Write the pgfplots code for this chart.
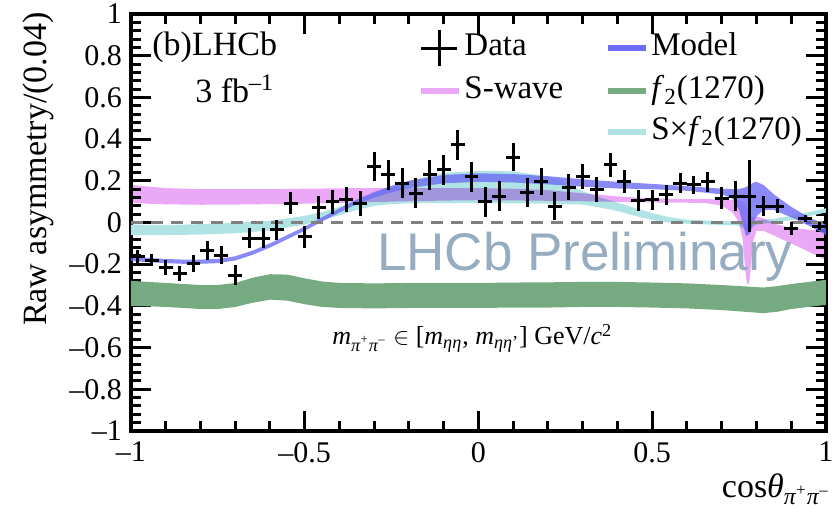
\documentclass[border=0pt]{standalone}
\usepackage{fontspec}
\setmainfont{Liberation Serif}
\newfontfamily\wmfont{Liberation Sans}
\usepackage{pgfplots}
\usepackage{pgfplotstable}
\pgfplotsset{compat=1.18}
\usepgfplotslibrary{fillbetween}

\definecolor{modelc}{RGB}{108,108,245}
\definecolor{swavec}{RGB}{234,168,246}
\definecolor{f2c}{RGB}{118,170,128}
\definecolor{sf2c}{RGB}{176,228,228}
\definecolor{wmc}{RGB}{150,172,192}
\definecolor{dashc}{RGB}{128,128,128}

\pgfplotstableread{
x y ex ey
-0.98 -0.162 0.02 0.030
-0.94 -0.180 0.02 0.030
-0.90 -0.215 0.02 0.035
-0.86 -0.244 0.02 0.035
-0.82 -0.196 0.02 0.040
-0.78 -0.135 0.02 0.045
-0.74 -0.156 0.02 0.045
-0.70 -0.252 0.02 0.048
-0.66 -0.076 0.02 0.048
-0.62 -0.076 0.02 0.048
-0.58 -0.036 0.02 0.050
-0.54 0.092 0.02 0.052
-0.50 -0.068 0.02 0.052
-0.46 0.073 0.02 0.055
-0.42 0.100 0.02 0.058
-0.38 0.111 0.02 0.060
-0.34 0.092 0.02 0.060
-0.30 0.268 0.02 0.070
-0.26 0.228 0.02 0.070
-0.22 0.188 0.02 0.072
-0.18 0.140 0.02 0.072
-0.14 0.228 0.02 0.070
-0.10 0.252 0.02 0.070
-0.06 0.372 0.02 0.070
-0.02 0.220 0.02 0.072
0.02 0.100 0.02 0.072
0.06 0.127 0.02 0.070
0.10 0.313 0.02 0.068
0.14 0.143 0.02 0.068
0.18 0.196 0.02 0.066
0.22 0.079 0.02 0.065
0.26 0.169 0.02 0.062
0.30 0.220 0.02 0.060
0.34 0.156 0.02 0.060
0.38 0.276 0.02 0.058
0.42 0.196 0.02 0.055
0.46 0.105 0.02 0.052
0.50 0.108 0.02 0.048
0.54 0.132 0.02 0.048
0.58 0.188 0.02 0.048
0.62 0.180 0.02 0.045
0.66 0.196 0.02 0.048
0.70 0.116 0.02 0.052
0.74 0.127 0.02 0.070
0.78 0.127 0.02 0.175
0.82 0.079 0.02 0.048
0.86 0.079 0.02 0.032
0.90 -0.028 0.02 0.032
0.94 0.020 0.02 0.016
0.98 -0.017 0.02 0.020
}\datatab

\pgfplotstableread{
x lo hi
-1.00 -0.400 -0.280
-0.95 -0.402 -0.285
-0.90 -0.405 -0.290
-0.85 -0.410 -0.295
-0.80 -0.415 -0.300
-0.75 -0.415 -0.300
-0.70 -0.405 -0.290
-0.65 -0.385 -0.265
-0.60 -0.370 -0.248
-0.55 -0.375 -0.250
-0.50 -0.392 -0.268
-0.45 -0.405 -0.283
-0.40 -0.410 -0.290
-0.30 -0.412 -0.292
-0.20 -0.410 -0.290
-0.10 -0.410 -0.290
0.00 -0.410 -0.290
0.10 -0.408 -0.288
0.20 -0.408 -0.287
0.30 -0.405 -0.285
0.40 -0.405 -0.285
0.50 -0.408 -0.288
0.60 -0.412 -0.292
0.70 -0.420 -0.300
0.78 -0.430 -0.308
0.82 -0.435 -0.312
0.86 -0.428 -0.305
0.90 -0.415 -0.295
0.95 -0.405 -0.285
1.00 -0.395 -0.275
}\greentab

\pgfplotstableread{
x lo hi
-1.00 0.095 0.180
-0.95 0.090 0.172
-0.90 0.087 0.165
-0.80 0.085 0.160
-0.70 0.086 0.160
-0.60 0.088 0.160
-0.50 0.090 0.162
-0.40 0.094 0.164
-0.30 0.098 0.165
-0.20 0.102 0.165
-0.10 0.105 0.165
0.00 0.107 0.165
0.10 0.106 0.162
0.20 0.104 0.155
0.30 0.102 0.140
0.40 0.099 0.125
0.50 0.096 0.115
0.60 0.095 0.112
0.66 0.092 0.112
0.70 0.080 0.110
0.73 0.050 0.108
0.75 0.000 0.105
0.76 -0.080 0.100
0.77 -0.270 0.080
0.775 -0.300 0.060
0.78 -0.280 0.040
0.785 -0.180 0.030
0.79 -0.090 0.025
0.80 -0.040 0.030
0.82 -0.040 0.020
0.86 -0.070 -0.010
0.90 -0.100 -0.025
0.95 -0.140 -0.035
1.00 -0.180 -0.040
}\pinktab

\pgfplotstableread{
x lo hi
-1.00 -0.060 -0.010
-0.90 -0.060 -0.012
-0.80 -0.058 -0.008
-0.70 -0.052 -0.002
-0.60 -0.038 0.008
-0.50 -0.010 0.032
-0.45 0.010 0.050
-0.40 0.035 0.075
-0.35 0.060 0.105
-0.30 0.080 0.138
-0.25 0.088 0.170
-0.20 0.092 0.200
-0.10 0.093 0.238
0.00 0.093 0.248
0.10 0.092 0.245
0.20 0.090 0.220
0.25 0.088 0.190
0.30 0.086 0.150
0.35 0.072 0.120
0.40 0.055 0.095
0.45 0.032 0.070
0.50 0.012 0.045
0.55 0.000 0.025
0.60 -0.006 0.014
0.70 -0.012 0.006
0.75 -0.015 0.004
0.77 -0.035 -0.005
0.78 -0.040 -0.010
0.79 -0.020 0.005
0.80 -0.010 0.010
0.85 0.000 0.018
0.90 0.012 0.032
0.95 0.030 0.050
1.00 0.048 0.068
}\cyantab

\pgfplotstableread{
x lo hi
-1.00 -0.185 -0.165
-0.95 -0.190 -0.170
-0.90 -0.195 -0.175
-0.85 -0.198 -0.178
-0.80 -0.198 -0.178
-0.75 -0.195 -0.175
-0.70 -0.182 -0.162
-0.65 -0.155 -0.135
-0.60 -0.120 -0.100
-0.55 -0.080 -0.060
-0.50 -0.040 -0.020
-0.45 0.005 0.025
-0.40 0.048 0.068
-0.35 0.088 0.110
-0.30 0.120 0.146
-0.25 0.145 0.176
-0.20 0.165 0.200
-0.10 0.188 0.228
0.00 0.195 0.236
0.10 0.192 0.232
0.20 0.183 0.222
0.30 0.172 0.207
0.40 0.163 0.195
0.50 0.160 0.185
0.60 0.152 0.174
0.70 0.135 0.162
0.73 0.115 0.160
0.75 0.060 0.160
0.76 0.000 0.165
0.77 -0.065 0.170
0.78 -0.055 0.180
0.79 -0.005 0.190
0.80 0.030 0.195
0.82 0.060 0.180
0.85 0.060 0.135
0.90 0.025 0.075
0.95 -0.015 0.025
1.00 -0.060 -0.010
}\modeltab

\begin{document}
\begin{tikzpicture}
\begin{axis}[
  at={(0pt,0pt)}, anchor=south west,
  width=347.5pt, height=208.5pt, scale only axis,
  xmin=-1, xmax=1, ymin=-1, ymax=1,
  axis line style={line width=1.75pt, line join=miter},
  tick align=inside,
  major tick length=10pt, minor tick length=5pt,
  every tick/.style={black, line width=1.5pt},
  xtick={-1,-0.5,0,0.5,1},
  xticklabels={–1,–0.5,0,0.5,1},
  minor x tick num=4,
  ytick={-1,-0.8,-0.6,-0.4,-0.2,0,0.2,0.4,0.6,0.8,1},
  yticklabels={–1,–0.8,–0.6,–0.4,–0.2,0,0.2,0.4,0.6,0.8,1},
  minor y tick num=4,
  ticklabel style={font=\fontsize{15}{18}\selectfont},
  xticklabel style={yshift=-2pt},
  yticklabel style={xshift=-1pt},
  legend columns=2,
  legend cell align=left,
  legend style={draw=none, fill=none, inner sep=0pt,
    at={(axis description cs:0.413,0.965)}, anchor=north west,
    font=\fontsize{16.5}{19}\selectfont,
    nodes={inner sep=1pt, text height=11.5pt, text depth=4pt},
    row sep=3pt,
    /tikz/every even column/.append style={column sep=20pt}},
]
% bands
\addplot[name path=ch, draw=none, forget plot] table[x=x,y=hi]{\cyantab};
\addplot[name path=cl, draw=none, forget plot] table[x=x,y=lo]{\cyantab};
\addplot[sf2c, forget plot] fill between[of=ch and cl];

\addplot[name path=ph, draw=none, forget plot] table[x=x,y=hi]{\pinktab};
\addplot[name path=pl, draw=none, forget plot] table[x=x,y=lo]{\pinktab};
\addplot[swavec, blend mode=multiply, forget plot] fill between[of=ph and pl];

\addplot[name path=gh, draw=none, forget plot] table[x=x,y=hi]{\greentab};
\addplot[name path=gl, draw=none, forget plot] table[x=x,y=lo]{\greentab};
\addplot[f2c, forget plot] fill between[of=gh and gl];

\addplot[name path=mh, draw=none, forget plot] table[x=x,y=hi]{\modeltab};
\addplot[name path=ml, draw=none, forget plot] table[x=x,y=lo]{\modeltab};
\addplot[modelc, fill opacity=0.8, forget plot] fill between[of=mh and ml];

% zero line
\addplot[dashc, line width=1.5pt, dash pattern=on 6pt off 4pt, forget plot] coordinates {(-1,0) (1,0)};

% watermark
\node[wmc, anchor=base, font=\wmfont\fontsize{26.5}{30}\selectfont] at (axis cs:0.306,-0.228) {LHCb Preliminary};

% data
\addplot[draw=none, mark=none, forget plot,
  error bars/.cd, x dir=both, x explicit, y dir=both, y explicit,
  error mark=none, error bar style={draw=black, line width=1.5pt}]
  table[x=x, y=y, x error=ex, y error=ey]{\datatab};

% legend
\addlegendimage{legend image code/.code={
  \draw[black, line width=1.5pt] (0pt,0pt)--(18pt,0pt) (9pt,-9pt)--(9pt,9pt);}}
\addlegendentry{Data}
\addlegendimage{legend image code/.code={
  \draw[modelc, line width=3pt] (0pt,0pt)--(19pt,0pt);}}
\addlegendentry{Model}
\addlegendimage{legend image code/.code={
  \draw[swavec, line width=3pt] (0pt,0pt)--(19pt,0pt);}}
\addlegendentry{S-wave}
\addlegendimage{legend image code/.code={
  \draw[f2c, line width=3pt] (0pt,0pt)--(19pt,0pt);}}
\addlegendentry{\textit{f}\textsubscript{2}(1270)}
\addlegendimage{empty legend}
\addlegendentry{}
\addlegendimage{legend image code/.code={
  \draw[sf2c, line width=3pt] (0pt,0pt)--(19pt,0pt);}}
\addlegendentry{S×\textit{f}\textsubscript{2}(1270)}
\end{axis}

% labels
\node[rotate=90, anchor=east, font=\fontsize{17}{20}\selectfont, inner sep=0pt] at (-46.5pt,209.5pt) {Raw asymmetry/(0.04)};
\node[anchor=base east, font=\fontsize{17}{20}\selectfont, inner sep=0pt] at (349.5pt,-33.5pt) {cos\textit{θ}\textsubscript{\textit{π}\textsuperscript{+}\textit{π}\textsuperscript{–}}};
\node[anchor=base west, font=\fontsize{17}{20}\selectfont, inner sep=0pt] at (10.5pt,187.5pt) {(b)LHCb};
\node[anchor=base west, font=\fontsize{17}{20}\selectfont, inner sep=0pt] at (32pt,164pt) {3 fb\textsuperscript{–1}};
\node[anchor=base west, font=\fontsize{13}{16}\selectfont, inner sep=0pt] at (100.5pt,43pt) {\textit{m}\textsubscript{\textit{π}\textsuperscript{+}\textit{π}\textsuperscript{–}} $\in$ [\textit{m}\textsubscript{\textit{ηη}}, \textit{m}\textsubscript{\textit{ηη}'}] GeV/\textit{c}\textsuperscript{2}};
\pgfresetboundingbox
\useasboundingbox (-65.5pt,-38pt) rectangle (350.5pt,215.5pt);
\end{tikzpicture}
\end{document}
